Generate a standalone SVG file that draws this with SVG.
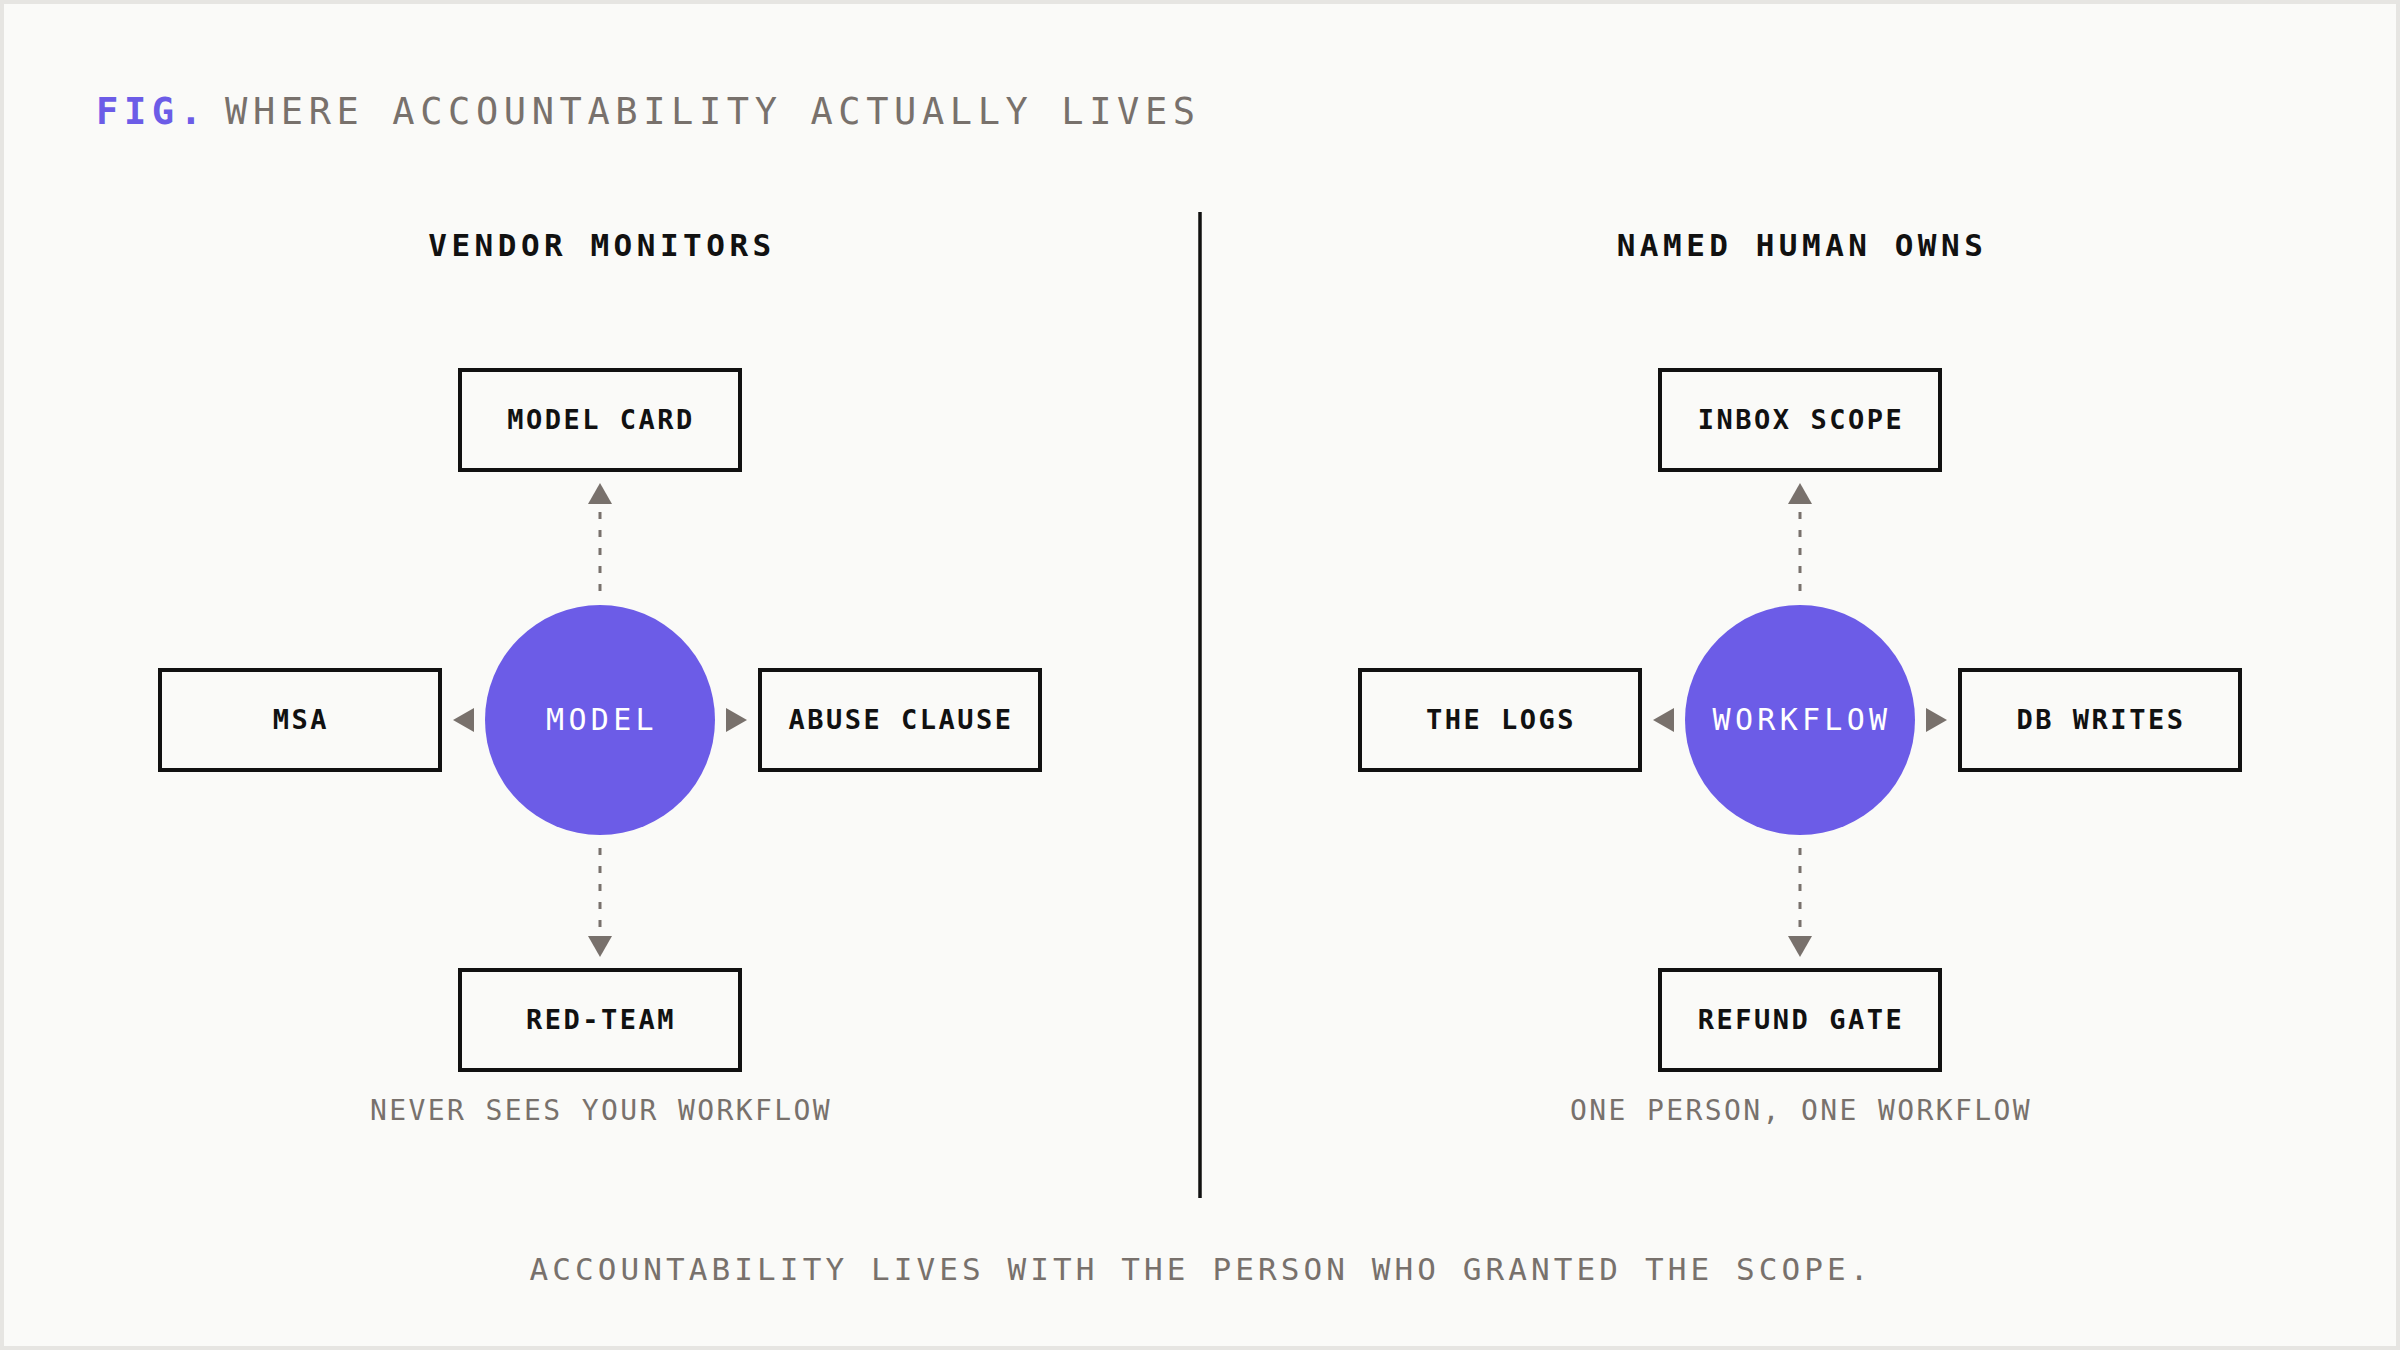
<svg xmlns="http://www.w3.org/2000/svg" xmlns:xlink="http://www.w3.org/1999/xlink" width="2400" height="1350" viewBox="0 0 2400 1350">
<style>
.mono{font-family:"DejaVu Sans Mono","Liberation Mono",monospace}
.title{font-size:37px;letter-spacing:5.6px;fill:#78716c}
.fig{font-size:37px;letter-spacing:5.6px;fill:#6c5ce7;font-weight:bold}
.head{font-size:31px;letter-spacing:4.5px;fill:#111;font-weight:bold;text-anchor:middle}
.lbl{font-size:27px;letter-spacing:2.5px;fill:#111;font-weight:bold;text-anchor:middle}
.clbl{font-size:30px;letter-spacing:4.3px;fill:#fff;text-anchor:middle}
.cap{font-size:28px;letter-spacing:2.4px;fill:#78716c;text-anchor:middle}
.foot{font-size:31px;letter-spacing:4.1px;fill:#78716c;text-anchor:middle}
.box{fill:#fafaf8;stroke:#111;stroke-width:4}
.hub{fill:#6c5ce7}
.dash{stroke:#78716c;stroke-width:3;stroke-dasharray:7 11;fill:none}
.ah{fill:#78716c}
</style>
<defs>
<path id="ah" d="M0,0 L-21,-12 L-21,12 Z"/>
</defs>
<rect x="2" y="2" width="2396" height="1346" fill="#fafaf8" stroke="#e6e5e2" stroke-width="4"/>
<text class="mono fig" x="96" y="124">FIG.</text>
<text class="mono title" x="225" y="124">WHERE ACCOUNTABILITY ACTUALLY LIVES</text>
<line x1="1200" y1="212" x2="1200" y2="1198" stroke="#111" stroke-width="3.5"/>
<text class="mono head" x="602" y="256">VENDOR MONITORS</text>
<text class="mono head" x="1802" y="256">NAMED HUMAN OWNS</text>

<g id="connectors">
<line class="dash" x1="600" y1="591" x2="600" y2="504"/>
<use href="#ah" class="ah" transform="translate(600,483) rotate(-90)"/>
<line class="dash" x1="600" y1="848" x2="600" y2="936"/>
<use href="#ah" class="ah" transform="translate(600,957) rotate(90)"/>
<use href="#ah" class="ah" transform="translate(453,720) rotate(180)"/>
<use href="#ah" class="ah" transform="translate(747,720)"/>
<line class="dash" x1="1800" y1="591" x2="1800" y2="504"/>
<use href="#ah" class="ah" transform="translate(1800,483) rotate(-90)"/>
<line class="dash" x1="1800" y1="848" x2="1800" y2="936"/>
<use href="#ah" class="ah" transform="translate(1800,957) rotate(90)"/>
<use href="#ah" class="ah" transform="translate(1653,720) rotate(180)"/>
<use href="#ah" class="ah" transform="translate(1947,720)"/>
</g>

<g id="model">
<circle class="hub" cx="600" cy="720" r="115"/>
<text class="mono clbl" x="602" y="730">MODEL</text>
</g>
<g id="model-card">
<rect class="box" x="460" y="370" width="280" height="100"/>
<text class="mono lbl" x="601" y="429">MODEL CARD</text>
</g>
<g id="msa">
<rect class="box" x="160" y="670" width="280" height="100"/>
<text class="mono lbl" x="301" y="729">MSA</text>
</g>
<g id="abuse-clause">
<rect class="box" x="760" y="670" width="280" height="100"/>
<text class="mono lbl" x="901" y="729">ABUSE CLAUSE</text>
</g>
<g id="red-team">
<rect class="box" x="460" y="970" width="280" height="100"/>
<text class="mono lbl" x="601" y="1029">RED-TEAM</text>
</g>
<text class="mono cap" x="601" y="1120">NEVER SEES YOUR WORKFLOW</text>

<g id="workflow">
<circle class="hub" cx="1800" cy="720" r="115"/>
<text class="mono clbl" x="1802" y="730">WORKFLOW</text>
</g>
<g id="inbox-scope">
<rect class="box" x="1660" y="370" width="280" height="100"/>
<text class="mono lbl" x="1801" y="429">INBOX SCOPE</text>
</g>
<g id="the-logs">
<rect class="box" x="1360" y="670" width="280" height="100"/>
<text class="mono lbl" x="1501" y="729">THE LOGS</text>
</g>
<g id="db-writes">
<rect class="box" x="1960" y="670" width="280" height="100"/>
<text class="mono lbl" x="2101" y="729">DB WRITES</text>
</g>
<g id="refund-gate">
<rect class="box" x="1660" y="970" width="280" height="100"/>
<text class="mono lbl" x="1801" y="1029">REFUND GATE</text>
</g>
<text class="mono cap" x="1801" y="1120">ONE PERSON, ONE WORKFLOW</text>

<text class="mono foot" x="1201" y="1280">ACCOUNTABILITY LIVES WITH THE PERSON WHO GRANTED THE SCOPE.</text>
</svg>
